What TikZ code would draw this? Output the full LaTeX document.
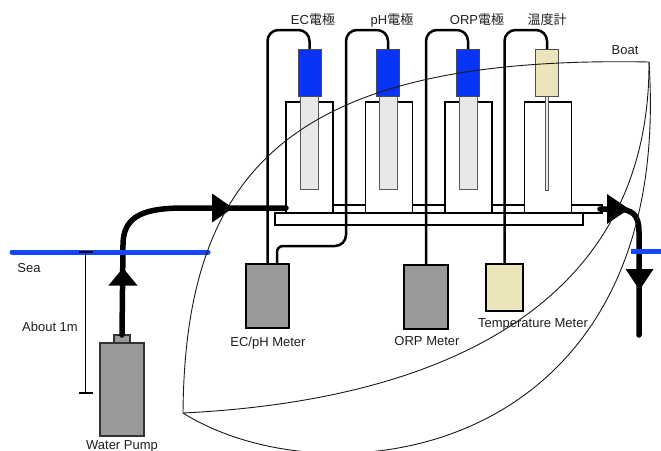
\documentclass[tikz,border=0pt]{standalone}
\usepackage{fontspec}
\setmainfont{Liberation Sans}
\newfontfamily\cjk{Noto Sans CJK JP}
\definecolor{probeblue}{RGB}{8,52,245}
\definecolor{seablue}{RGB}{20,70,255}
\definecolor{metergray}{RGB}{153,153,153}
\definecolor{glass}{RGB}{232,232,232}
\definecolor{sand}{RGB}{236,229,186}
\definecolor{ink}{RGB}{30,30,30}
\tikzset{
  lbl/.style={font=\fontsize{13}{15}\selectfont, text=ink, inner sep=0pt, anchor=base},
  box/.style={rectangle, inner sep=0pt, outer sep=0pt},
  meter/.style={box, draw=black, line width=2.8pt, fill=metergray},
  beaker/.style={box, draw=black, line width=1.2pt, fill=white, minimum width=47pt, minimum height=111pt},
  electrode/.style={box, draw=black!65, line width=1pt, fill=glass, minimum width=18pt, minimum height=93pt},
  probecap/.style={box, draw=black!70, line width=0.8pt, fill=probeblue, minimum width=23pt, minimum height=47pt},
  cable/.style={line width=2.5pt, black},
  pipe/.style={line width=5.5pt, black, line cap=round},
  arrowhead/.style={fill=black},
  sea/.style={line width=5pt, seablue, line cap=round},
  hull/.style={line width=0.9pt, black!90},
}
\begin{document}
\begin{tikzpicture}[x=1pt,y=-1pt]
\useasboundingbox (0,0) rectangle (661,450);

% shelf carrying the beakers and the flow channel
\node[box, draw=black, line width=1.2pt, fill=white, minimum width=308pt, minimum height=12pt] (shelf) at (429,219) {};
\node[box, draw=black, line width=1.2pt, fill=white, minimum width=315pt, minimum height=8pt] (channel) at (444.5,209) {};

% beakers
\node[beaker] (b1) at (309.5,157.5) {};
\node[beaker] (b2) at (389,157.5) {};
\node[beaker] (b3) at (468.5,157.5) {};
\node[beaker] (b4) at (548,157.5) {};

% electrodes and probe heads
\node[electrode] (e1) at (309.5,142.5) {};
\node[electrode] (e2) at (388,142.5) {};
\node[electrode] (e3) at (468,142.5) {};
\node[box, draw=black!65, line width=0.8pt, fill=glass, minimum width=3pt, minimum height=94pt] (e4) at (547,143) {};
\node[probecap] (c1) at (309.5,72.5) {};
\node[probecap] (c2) at (388,72.5) {};
\node[probecap] (c3) at (468,72.5) {};
\node[probecap, fill=sand] (c4) at (547,72.5) {};

% probe labels
\node[lbl] (l1) at (313,24) {EC{\cjk 電極}};
\node[lbl] (l2) at (392,24) {pH{\cjk 電極}};
\node[lbl] (l3) at (477,24) {ORP{\cjk 電極}};
\node[lbl] (l4) at (547,24) {{\cjk 温度計}};

% meters
\node[meter, minimum width=43pt, minimum height=64pt] (ecph) at (267.5,296) {};
\node[meter, minimum width=44pt, minimum height=64pt] (orp) at (426,297) {};
\node[meter, fill=sand, minimum width=37pt, minimum height=47pt] (tmp) at (504.5,287.5) {};
\node[lbl] (ecphl) at (268,346) {EC/pH Meter};
\node[lbl] (orpl) at (427,345) {ORP Meter};
\node[lbl] (tmpl) at (533,327) {Temperature Meter};

% cables from the probes to the meters
\coordinate (bend2) at (346,246);
\draw[cable, rounded corners=11pt] (c1.north) -- ++(0,-19) -| (ecph.north);
\draw[cable, rounded corners=11pt] (c2.north) -- ++(0,-19) -| (bend2)
  [rounded corners=6pt] -| ([xshift=9.5pt]ecph.north);
\draw[cable, rounded corners=11pt] (c3.north) -- ++(0,-19) -| (orp.north);
\draw[cable, rounded corners=11pt] (c4.north) -- ++(0,-19) -| (tmp.north);

% water pump
\node[box, draw=black!80, line width=1.3pt, fill=metergray, minimum width=44pt, minimum height=93pt] (pump) at (122,389.5) {};
\node[box, draw=black!80, line width=1.3pt, fill=metergray, minimum width=16pt, minimum height=8pt] (pumpcap) at (122,339) {};
\node[lbl] (pumpl) at (122,449.5) {Water Pump};

% intake pipe
\coordinate (inbend) at (123,245);
\draw[pipe] (pumpcap.north) -- (inbend) .. controls (123,215) and (145,208) .. (185,208) -- (b1.south west |- 0,208);
\fill[arrowhead] (123,268) -- (108.5,285.5) -- (137.5,285.5) -- cycle;
\fill[arrowhead] (233,208) -- (212,193.5) -- (212,222.5) -- cycle;

% outlet pipe
\coordinate (outstart) at (600,209);
\coordinate (outend) at (639,335);
\draw[pipe] (outstart) -- (615,209) .. controls (633,209) and (639,215) .. (639,232) -- (outend);
\fill[arrowhead] (629,209) -- (607,194) -- (607,224) -- cycle;
\fill[arrowhead] (639.5,290) -- (625.5,269) -- (653.5,269) -- cycle;

% sea surface
\coordinate (seaL0) at (12,252);
\coordinate (seaL1) at (208,252);
\coordinate (seaR0) at (631,251);
\coordinate (seaR1) at (664,251);
\draw[sea] (seaL0) -- (seaL1);
\draw[sea, line cap=butt] (seaR0) -- (seaR1);
\node[lbl] (seal) at (29,272) {Sea};

% depth marker
\coordinate (dtop) at (85.5,252);
\coordinate (dbot) at (85.5,393);
\draw[line width=1.5pt, black] (dtop) -- (dbot);
\draw[line width=2.6pt, black] ([xshift=-7pt]dtop) -- ([xshift=7pt]dtop);
\draw[line width=2.6pt, black] ([xshift=-7pt]dbot) -- ([xshift=7pt]dbot);
\node[lbl] (depthl) at (50,331) {About 1m};

% boat hull
\coordinate (bow) at (183,413);
\coordinate (stern) at (649,62);
\draw[hull] (bow) .. controls (185,170) and (290,55) .. (stern);
\draw[hull] (bow) .. controls (450,400) and (650,300) .. (stern);
\draw[hull] (bow) .. controls (330,505) and (675,460) .. (stern);
\node[lbl] (boatl) at (625,54) {Boat};
\end{tikzpicture}
\end{document}
